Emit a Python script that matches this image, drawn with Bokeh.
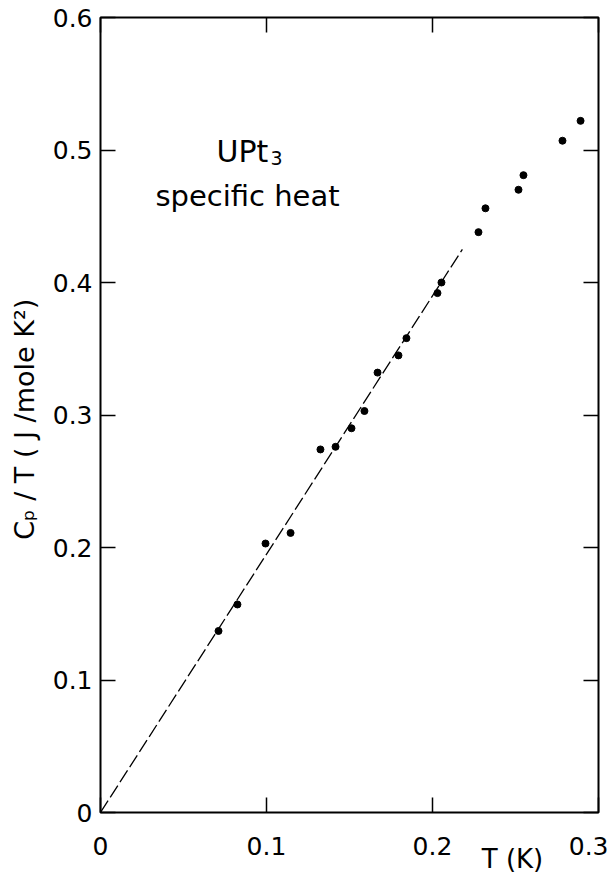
from bokeh.plotting import figure
from bokeh.models import LinearAxis, FixedTicker, Label, Range1d, ColumnDataSource
from bokeh.embed import file_html
from bokeh.resources import INLINE

# data
T_vals = [0.0711, 0.0825, 0.0994, 0.1145, 0.1325, 0.1416, 0.1512, 0.1590, 0.1669,
          0.1795, 0.1843, 0.2030, 0.2054, 0.2277, 0.2319, 0.2518, 0.2548, 0.2783, 0.2892]
CpT_vals = [0.137, 0.157, 0.203, 0.211, 0.274, 0.276, 0.290, 0.303, 0.332,
            0.345, 0.358, 0.392, 0.400, 0.438, 0.456, 0.470, 0.481, 0.507, 0.522]
fit_T = [0.0, 0.218]
fit_CpT = [0.0, 0.425]
x_ticks = [0, 0.1, 0.2, 0.3]
x_tick_labels = ["0", "0.1", "0.2", "0.3"]
y_ticks = [0, 0.1, 0.2, 0.3, 0.4, 0.5, 0.6]
y_tick_labels = ["0", "0.1", "0.2", "0.3", "0.4", "0.5", "0.6"]
x_title_pos = [0.2482]
x_title = ["T (K)"]

FONT = "DejaVu Sans"

p = figure(width=608, height=876, output_backend="svg", toolbar_location=None,
           x_range=Range1d(0, 0.3), y_range=Range1d(0, 0.6),
           min_border_left=100, min_border_right=10, min_border_top=17, min_border_bottom=61,
           x_axis_location="below", y_axis_location="left")
p.grid.visible = False
p.outline_line_color = "black"
p.outline_line_width = 2
p.background_fill_color = "white"
p.border_fill_color = "white"

def style(ax, labels, ticks, show_labels=True):
    ax.ticker = FixedTicker(ticks=ticks)
    ax.major_tick_in = 15
    ax.major_tick_out = 0
    ax.minor_tick_line_color = None
    ax.axis_line_color = None
    ax.major_tick_line_color = "black"
    ax.major_tick_line_width = 1.5
    ax.major_label_text_font = FONT
    ax.major_label_text_font_size = "25px"
    ax.major_label_text_color = "black"
    ax.major_label_overrides = {t: l for t, l in zip(ticks, labels)}
    if not show_labels:
        ax.major_label_text_font_size = "0px"
        ax.major_label_text_color = None

xa = p.xaxis[0]
style(xa, x_tick_labels, x_ticks)
xa.major_label_standoff = 24
ya = p.yaxis[0]
style(ya, y_tick_labels, y_ticks)
ya.major_label_standoff = 8
ya.axis_label = "Cₚ / T  ( J /mole K²)"
ya.axis_label_text_font = FONT
ya.axis_label_text_font_style = "normal"
ya.axis_label_text_font_size = "27px"
ya.axis_label_text_color = "black"
ya.axis_label_standoff = 10

# secondary bottom axis carrying only the "T (K)" title, pulled up under the tick labels
xt = LinearAxis()
style(xt, x_title, x_title_pos)
xt.major_tick_line_color = None
xt.major_tick_in = 0
xt.major_label_text_font_size = "26px"
xt.major_label_standoff = -14
p.add_layout(xt, "below")

top = LinearAxis()
style(top, x_tick_labels, x_ticks, show_labels=False)
p.add_layout(top, "above")
right = LinearAxis()
style(right, y_tick_labels, y_ticks, show_labels=False)
p.add_layout(right, "right")

src = ColumnDataSource(dict(T=T_vals, C=CpT_vals))
p.line(fit_T, fit_CpT, line_color="black", line_width=1.3, line_dash="14 4")
p.scatter("T", "C", source=src, size=7, color="black")

p.add_layout(Label(x=0.0699, y=0.4985, text="UPt", text_font=FONT, text_color="black",
                   text_font_size="30px", text_baseline="alphabetic", text_align="left"))
p.add_layout(Label(x=0.1024, y=0.494, text="3", text_font=FONT, text_color="black",
                   text_font_size="19px", text_baseline="alphabetic", text_align="left"))
p.add_layout(Label(x=0.0331, y=0.465, text="specific heat", text_font=FONT, text_color="black",
                   text_font_size="29px", text_baseline="alphabetic", text_align="left"))

open("out.html", "w").write(file_html(p, INLINE))
